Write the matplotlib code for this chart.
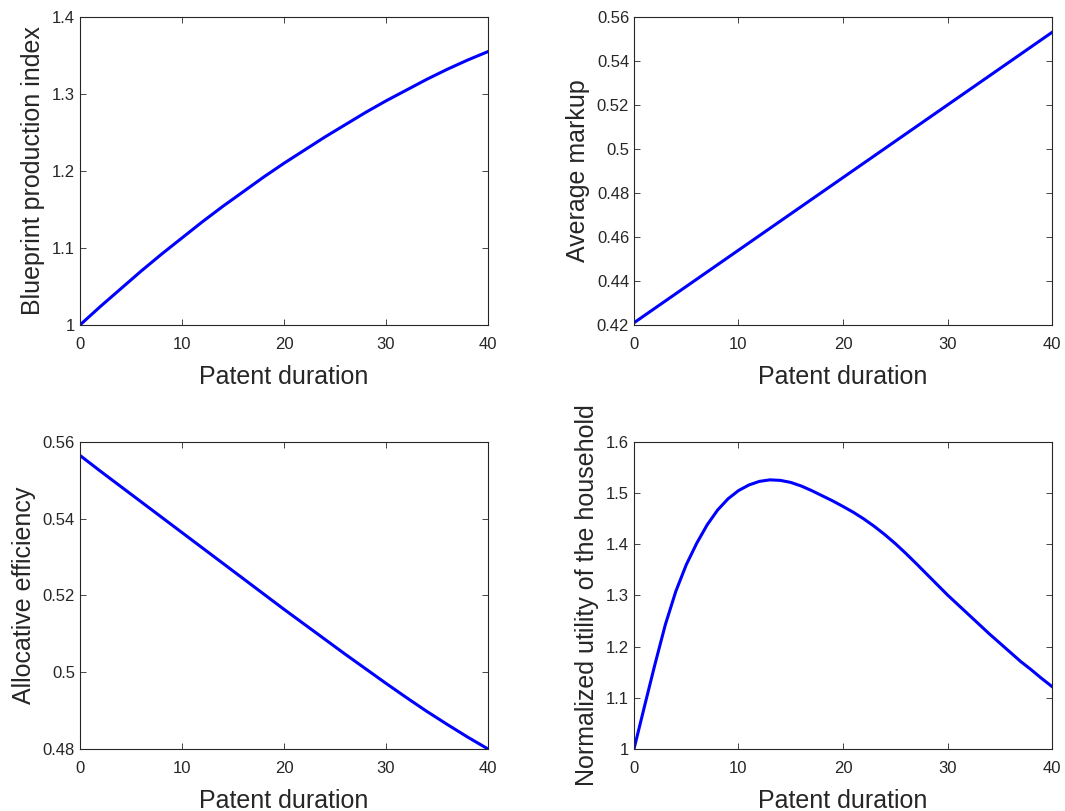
import matplotlib
matplotlib.use('Agg')
import matplotlib.pyplot as plt
from matplotlib.ticker import FuncFormatter

# values
duration = [0, 2, 4, 6, 8, 10, 12, 14, 16, 18, 20,
            22, 24, 26, 28, 30, 32, 34, 36, 38, 40]
blueprint = [1.0, 1.024, 1.047, 1.07, 1.092, 1.113, 1.134, 1.154, 1.173, 1.192, 1.21,
             1.227, 1.244, 1.26, 1.276, 1.291, 1.305, 1.319, 1.332, 1.344, 1.355]
efficiency = [0.5565, 0.5524, 0.5484, 0.5444, 0.5404, 0.5364, 0.5324, 0.5284, 0.5244, 0.5204, 0.5164,
              0.5125, 0.5086, 0.5047, 0.5009, 0.4971, 0.4934, 0.4898, 0.4864, 0.4831, 0.480]

markup_x = [0, 10, 20, 30, 40]
markup = [0.421, 0.454, 0.487, 0.520, 0.553]

utility_x = list(range(0, 41))
utility = [1.0, 1.083, 1.165, 1.243, 1.308, 1.36, 1.402, 1.438, 1.467, 1.489,
           1.505, 1.516, 1.523, 1.526, 1.525, 1.521, 1.514, 1.505, 1.495, 1.485,
           1.474, 1.4625, 1.4495, 1.435, 1.419, 1.4015, 1.3825, 1.3625, 1.342, 1.3215,
           1.301, 1.282, 1.263, 1.244, 1.225, 1.207, 1.189, 1.171, 1.155, 1.138, 1.122]

plt.rcParams['font.family'] = ['Liberation Sans', 'DejaVu Sans']

fig = plt.figure(figsize=(10.65, 8.11), dpi=100)

panels = [
    ([0.0751, 0.5993, 0.3831, 0.3798], duration, blueprint,
     'Blueprint production index', (1, 1.4), [1, 1.1, 1.2, 1.3, 1.4]),
    ([0.5953, 0.5993, 0.3925, 0.3798], markup_x, markup,
     'Average markup', (0.42, 0.56), [0.42, 0.44, 0.46, 0.48, 0.5, 0.52, 0.54, 0.56]),
    ([0.0751, 0.0765, 0.3831, 0.3785], duration, efficiency,
     'Allocative efficiency', (0.48, 0.56), [0.48, 0.5, 0.52, 0.54, 0.56]),
    ([0.5953, 0.0765, 0.3925, 0.3785], utility_x, utility,
     'Normalized utility of the household', (1, 1.6), [1, 1.1, 1.2, 1.3, 1.4, 1.5, 1.6]),
]

fmt = FuncFormatter(lambda v, p: '%g' % round(v, 4))

for rect, x, y, ylab, ylim, yticks in panels:
    ax = fig.add_axes(rect)
    ax.plot(x, y, color='#0000ff', linewidth=2.2, solid_joinstyle='round')
    ax.set_xlim(0, 40)
    ax.set_ylim(*ylim)
    ax.set_xticks([0, 10, 20, 30, 40])
    ax.set_yticks(yticks)
    ax.yaxis.set_major_formatter(fmt)
    ax.set_xlabel('Patent duration', fontsize=18, color='#262626', labelpad=9)
    ax.set_ylabel(ylab, fontsize=18, color='#262626', labelpad=5)
    ax.tick_params(axis='x', pad=9)
    ax.tick_params(direction='in', top=True, right=True, length=4, width=0.6,
                   labelsize=12, colors='#262626')
    for s in ax.spines.values():
        s.set_color('#262626')
        s.set_linewidth(0.8)

fig.savefig('out.png', dpi=100)
